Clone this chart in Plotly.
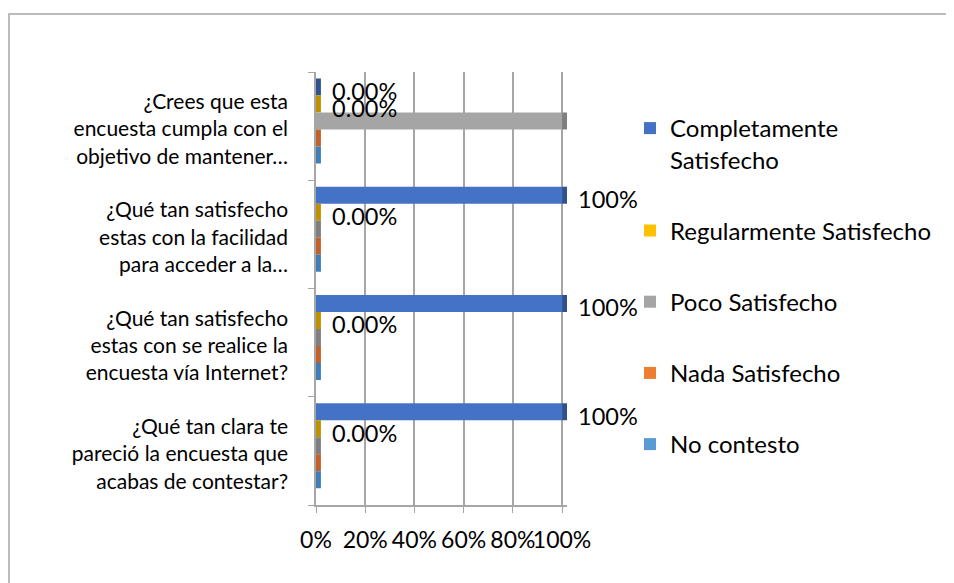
import plotly.graph_objects as go

# Survey questions (bottom to top, as drawn)
categories = [
    "¿Qué tan clara te<br>pareció la encuesta que<br>acabas de contestar?",
    "¿Qué tan satisfecho<br>estas con se realice la<br>encuesta vía Internet?",
    "¿Qué tan satisfecho<br>estas con la facilidad<br>para acceder a la…",
    "¿Crees que esta<br>encuesta cumpla con el<br>objetivo de mantener…",
]

series_names = [
    "Completamente<br>Satisfecho",
    "Regularmente Satisfecho",
    "Poco Satisfecho",
    "Nada Satisfecho",
    "No contesto",
]

completamente = [1.0, 1.0, 1.0, 0.0]
regularmente = [0.0, 0.0, 0.0, 0.0]
poco = [0.0, 0.0, 0.0, 1.0]
nada = [0.0, 0.0, 0.0, 0.0]
no_contesto = [0.0, 0.0, 0.0, 0.0]

# data labels shown in the chart (only the first two series carry labels)
labels_completamente = ["100%", "100%", "100%", "0.00%"]
labels_regularmente = ["0.00%", "0.00%", "0.00%", "0.00%"]
labels_none = ["", "", "", ""]

x_ticks = [0, 0.2, 0.4, 0.6, 0.8, 1.0]
x_ticktext = ["0%", "20%", "40%", "60%", "80%", "100%"]

values = [completamente, regularmente, poco, nada, no_contesto]
labels = [labels_completamente, labels_regularmente, labels_none, labels_none, labels_none]

face_colors = ["#4472C4", "#FFC000", "#A5A5A5", "#ED7D31", "#5B9BD5"]
side_colors = ["#2F528F", "#BF9000", "#7F7F7F", "#C0602A", "#3F7DB8"]

FONT = "Lato, 'Open Sans', sans-serif"
BAR_H = 0.157
GROUP_TOP = 0.44
DEPTH = 0.02  # width of the 3D end cap, in axis units

# page body has an 8px margin, so the figure is laid out 8px in from the window
W, H = 946, 575
L, T = 308, 64
PW, PH = 251, 433

fig = go.Figure()

for i, (name, vals, labs) in enumerate(zip(series_names, values, labels)):
    offset = GROUP_TOP - BAR_H * (i + 1)
    # front face of the bar
    fig.add_trace(go.Bar(
        name=name,
        y=categories,
        x=vals,
        orientation="h",
        offset=offset,
        width=BAR_H,
        marker=dict(color=face_colors[i], line=dict(width=0)),
        legendgroup=f"g{i}",
        hoverinfo="x+name",
    ))
    # end cap of the 3D bar
    fig.add_trace(go.Bar(
        y=categories,
        x=[DEPTH] * len(vals),
        base=vals,
        orientation="h",
        offset=offset,
        width=BAR_H,
        marker=dict(color=side_colors[i], line=dict(width=0)),
        legendgroup=f"g{i}",
        showlegend=False,
        hoverinfo="skip",
    ))
    # data labels
    for j, (v, lab) in enumerate(zip(vals, labs)):
        if not lab:
            continue
        fig.add_annotation(
            x=v + DEPTH, y=j + offset + BAR_H / 2,
            xref="x", yref="y",
            text=lab, showarrow=False,
            xanchor="left", yanchor="middle",
            xshift=9, yshift=-4,
            font=dict(size=23.5, color="#000000", family=FONT),
        )

fig.update_layout(
    width=W,
    height=H,
    barmode="overlay",
    paper_bgcolor="white",
    plot_bgcolor="white",
    font=dict(family=FONT, size=21, color="#000000"),
    margin=dict(l=L, r=W - L - PW, t=T, b=H - T - PH),
    legend=dict(
        xref="container",
        yref="container",
        x=622 / W,
        y=1 - 98 / H,
        xanchor="left",
        yanchor="top",
        valign="top",
        tracegroupgap=37,
        maxheight=1.0,
        font=dict(size=24, family=FONT),
        bgcolor="rgba(0,0,0,0)",
    ),
    showlegend=True,
)

fig.update_xaxes(
    range=[0, 1.02],
    tickvals=x_ticks,
    ticktext=x_ticktext,
    tickangle=0,
    tickfont=dict(size=23),
    showgrid=True,
    gridcolor="#A6A6A6",
    gridwidth=1.5,
    zeroline=False,
    showline=True,
    linecolor="#A6A6A6",
    linewidth=1.5,
    ticks="outside",
    ticklen=6,
    tickcolor="#A6A6A6",
    ticklabelstandoff=8,
)

fig.update_yaxes(
    type="category",
    tickson="boundaries",
    ticks="outside",
    ticklen=6,
    tickcolor="#A6A6A6",
    showgrid=False,
    showline=True,
    linecolor="#A6A6A6",
    linewidth=1.5,
    ticklabelstandoff=22,
    ticklabelshift=3,
    range=[-0.5, 3.5],
)

# chart area border (only top and left edges fall inside the frame)
fig.add_shape(type="rect", xref="paper", yref="paper",
              x0=(1 - L) / PW, x1=(960 - L) / PW,
              y0=(T + PH - 620) / PH, y1=(T + PH - 6) / PH,
              line=dict(color="#A6A6A6", width=1.5), layer="below")

fig.write_html("out.html")
